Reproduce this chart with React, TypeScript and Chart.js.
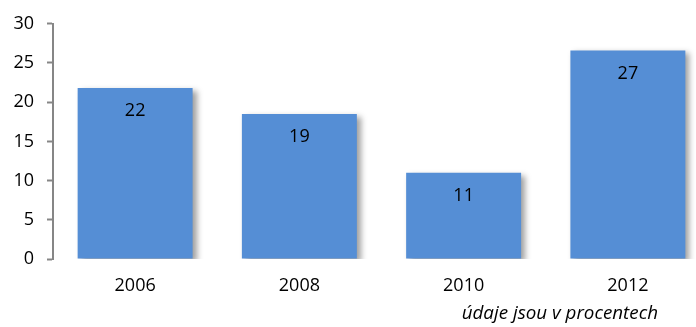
import React, { useEffect, useRef } from "react";
import { Chart, registerables } from "chart.js";

Chart.register(...registerables);

const categories = ["2006", "2008", "2010", "2012"];
const values = [21.8, 18.5, 11.0, 26.6];
const valueLabels = ["22", "19", "11", "27"];
const yTicks = [0, 5, 10, 15, 20, 25, 30];
const footnote = "údaje jsou v procentech";

const FONT = "'Open Sans', sans-serif";

const shadowPlugin = {
  id: "barShadow",
  beforeDatasetsDraw(chart: any) {
    const ctx = chart.ctx;
    ctx.save();
    ctx.shadowColor = "rgba(0,0,0,0.38)";
    ctx.shadowBlur = 6;
    ctx.shadowOffsetX = 4;
    ctx.shadowOffsetY = 3;
  },
  afterDatasetsDraw(chart: any) {
    const ctx = chart.ctx;
    ctx.restore();
    const meta = chart.getDatasetMeta(0);
    ctx.save();
    ctx.font = `18px ${FONT}`;
    ctx.fillStyle = "#000";
    ctx.textAlign = "center";
    ctx.textBaseline = "middle";
    meta.data.forEach((el: any, i: number) => {
      ctx.fillText(valueLabels[i], el.x, el.y + 23);
    });
    ctx.restore();
  },
};

export default function App() {
  const ref = useRef<HTMLCanvasElement>(null);
  useEffect(() => {
    document.body.style.margin = "0";
    const chart = new Chart(ref.current!, {
      type: "bar",
      data: {
        labels: categories,
        datasets: [
          {
            data: values,
            backgroundColor: "#558ED5",
            borderWidth: 0,
            barPercentage: 0.7,
            categoryPercentage: 1,
          },
        ],
      },
      options: {
        responsive: false,
        animation: false,
        layout: { padding: { top: 22, right: 0, bottom: 0, left: 0 } },
        plugins: {
          legend: { display: false },
          tooltip: { enabled: false },
        },
        scales: {
          x: {
            grid: { display: false },
            border: { display: false },
            ticks: { font: { family: FONT, size: 18 }, color: "#000", padding: 8 },
            afterFit: (s: any) => {
              s.height = 68;
            },
          },
          y: {
            min: 0,
            max: 30,
            afterBuildTicks: (s: any) => {
              s.ticks = yTicks.map((v) => ({ value: v }));
            },
            grid: { drawOnChartArea: false, tickLength: 6, color: "#868686", tickWidth: 2 },
            border: { display: true, color: "#868686", width: 2 },
            ticks: { font: { family: FONT, size: 18 }, color: "#000", padding: 13 },
            afterFit: (s: any) => {
              s.width = 53;
            },
          },
        },
      },
      plugins: [shadowPlugin],
    });
    return () => chart.destroy();
  }, []);
  return (
    <div style={{ position: "relative", width: 696, height: 327, overflow: "hidden" }}>
      <canvas ref={ref} width={710} height={327} />
      <div
        style={{
          position: "absolute",
          right: 38,
          top: 300,
          lineHeight: "24px",
          fontFamily: FONT,
          fontStyle: "italic",
          fontSize: 18.8,
          color: "#000",
          whiteSpace: "nowrap",
        }}
      >
        {footnote}
      </div>
    </div>
  );
}
